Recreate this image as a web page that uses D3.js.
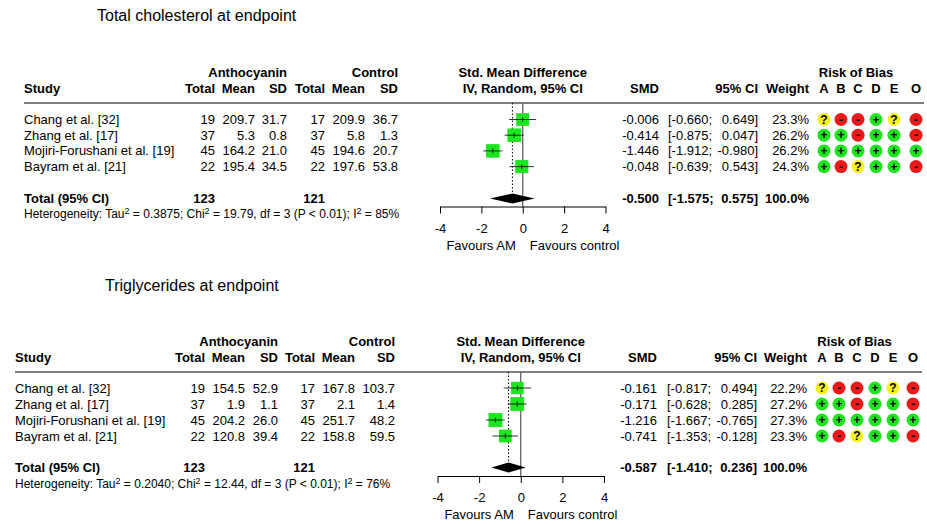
<html>
<head>
<meta charset="utf-8">
<script src="https://d3js.org/d3.v7.min.js"></script>
<style>
  body { margin: 0; background: #fff; }
  text { font-family: "Liberation Sans", Arial, sans-serif; font-size: 13px; fill: #000; }
</style>
</head>
<body>
<svg class="chart" width="927" height="524"></svg>
<script>
// shared labels
var studies = ["Chang et al. [32]", "Zhang et al. [17]", "Mojiri-Forushani et al. [19]", "Bayram et al. [21]"];
var robDomains = ["A", "B", "C", "D", "E", "O"];
var axisTicks = [-4, -2, 0, 2, 4];

// total cholesterol
var tcN1 = [19, 37, 45, 22];
var tcMean1 = [209.7, 5.3, 164.2, 195.4];
var tcSd1 = [31.7, 0.8, 21.0, 34.5];
var tcN2 = [17, 37, 45, 22];
var tcMean2 = [209.9, 5.8, 194.6, 197.6];
var tcSd2 = [36.7, 1.3, 20.7, 53.8];
var tcSmd = [-0.006, -0.414, -1.446, -0.048];
var tcLower = [-0.660, -0.875, -1.912, -0.639];
var tcUpper = [0.649, 0.047, -0.980, 0.543];
var tcWeight = [23.3, 26.2, 26.2, 24.3];
var tcPooled = [-0.500, -1.575, 0.575];
var tcTotals = [123, 121];
var tcHetero = ["0.3875", "19.79", "3", "< 0.01", "85%"];
var tcRob = [["?", "-", "-", "+", "?", "-"],
             ["+", "+", "-", "+", "+", "-"],
             ["+", "+", "+", "+", "+", "+"],
             ["+", "-", "?", "+", "+", "-"]];

// triglycerides
var tgN1 = [19, 37, 45, 22];
var tgMean1 = [154.5, 1.9, 204.2, 120.8];
var tgSd1 = [52.9, 1.1, 26.0, 39.4];
var tgN2 = [17, 37, 45, 22];
var tgMean2 = [167.8, 2.1, 251.7, 158.8];
var tgSd2 = [103.7, 1.4, 48.2, 59.5];
var tgSmd = [-0.161, -0.171, -1.216, -0.741];
var tgLower = [-0.817, -0.628, -1.667, -1.353];
var tgUpper = [0.494, 0.285, -0.765, -0.128];
var tgWeight = [22.2, 27.2, 27.3, 23.3];
var tgPooled = [-0.587, -1.410, 0.236];
var tgTotals = [123, 121];
var tgHetero = ["0.2040", "12.44", "3", "< 0.01", "76%"];
var tgRob = [["?", "-", "-", "+", "?", "-"],
             ["+", "+", "-", "+", "+", "-"],
             ["+", "+", "+", "+", "+", "+"],
             ["+", "-", "?", "+", "+", "-"]];

var robColor = {"+": "#1ee61e", "-": "#ea1a1a", "?": "#f6f21e"};
// plain hyphen for minus signs, like the original
var loc = d3.formatLocale({decimal: ".", thousands: ",", grouping: [3], currency: ["", ""], minus: "-"});
var f1 = loc.format(".1f"), f3 = loc.format(".3f");
var svg = d3.select(".chart");

function txt(g, x, y, s, anchor, bold, size) {
  return g.append("text")
    .attr("x", x).attr("y", y).attr("dy", "0.35em")
    .attr("text-anchor", anchor || "start")
    .style("font-weight", bold ? "bold" : null)
    .style("font-size", size ? size + "px" : null)
    .text(s);
}

function sup(t, s) {
  t.append("tspan").attr("dy", -4.5).style("font-size", "9px").text(s);
}

function drawPanel(L, d) {
  var g = svg.append("g");
  var x = d3.scaleLinear().domain([-4, 4]).range([L.x0, L.x1]);
  var y = d3.scaleLinear().domain([0, 1]).range([L.row0, L.row0 + L.pitch]);
  var side = d3.scaleSqrt().domain([0, 100]).range([0, 26.5]);

  txt(g, L.titleX, L.titleY, L.title, "start", false, 16);

  // column headers
  txt(g, L.cols[2], L.head1, "Anthocyanin", "end", true);
  txt(g, L.cols[5], L.head1, "Control", "end", true);
  txt(g, L.left, L.head2, "Study", "start", true);
  ["Total", "Mean", "SD", "Total", "Mean", "SD"].forEach(function(h, i) {
    txt(g, L.cols[i], L.head2, h, "end", true);
  });
  txt(g, x(0), L.head1, "Std. Mean Difference", "middle", true);
  txt(g, x(0), L.head2, "IV, Random, 95% CI", "middle", true);
  txt(g, L.smdX, L.head2, "SMD", "end", true);
  txt(g, L.hiX, L.head2, "95% CI", "end", true);
  txt(g, L.wX, L.head2, "Weight", "end", true);
  txt(g, (L.robX[0] + L.robX[4]) / 2 - 3, L.head1, "Risk of Bias", "middle", true);
  robDomains.forEach(function(r, i) { txt(g, L.robX[i], L.head2, r, "middle", true); });

  g.append("line").attr("x1", L.left).attr("x2", L.right)
    .attr("y1", L.lineY).attr("y2", L.lineY)
    .attr("stroke", "#555").attr("stroke-width", 1.6);

  // study rows
  studies.forEach(function(s, i) {
    var yy = y(i);
    txt(g, L.left, yy, s);
    [d.n1[i], f1(d.m1[i]), f1(d.s1[i]), d.n2[i], f1(d.m2[i]), f1(d.s2[i])].forEach(function(v, j) {
      txt(g, L.cols[j], yy, v, "end");
    });
    txt(g, L.smdX, yy, f3(d.smd[i]), "end");
    txt(g, L.loX, yy, "[" + f3(d.lo[i]) + ";", "start");
    txt(g, L.hiX, yy, f3(d.hi[i]) + "]", "end");
    txt(g, L.wX, yy, f1(d.w[i]) + "%", "end");
    d.rob[i].forEach(function(r, j) {
      g.append("circle").attr("cx", L.robX[j]).attr("cy", yy).attr("r", 6.5).attr("fill", robColor[r]);
      txt(g, L.robX[j], yy, r, "middle", true, 12);
    });
  });

  // reference lines
  g.append("line").attr("x1", x(d.pooled[0])).attr("x2", x(d.pooled[0]))
    .attr("y1", L.lineY).attr("y2", L.totalY)
    .attr("stroke", "#000").attr("stroke-width", 1).attr("stroke-dasharray", "1.5,2");
  g.append("line").attr("x1", x(0)).attr("x2", x(0))
    .attr("y1", L.lineY).attr("y2", L.axisY)
    .attr("stroke", "#555").attr("stroke-width", 1.2);

  // squares and CIs
  studies.forEach(function(s, i) {
    var yy = y(i), sz = side(d.w[i]);
    g.append("rect").attr("x", x(d.smd[i]) - sz / 2).attr("y", yy - sz / 2)
      .attr("width", sz).attr("height", sz).attr("fill", "#1ee61e");
    g.append("line").attr("x1", x(d.lo[i])).attr("x2", x(d.hi[i]))
      .attr("y1", yy).attr("y2", yy).attr("stroke", "#000").attr("stroke-width", 0.8);
    g.append("line").attr("x1", x(d.smd[i])).attr("x2", x(d.smd[i]))
      .attr("y1", yy - 2.5).attr("y2", yy + 2.5).attr("stroke", "#000").attr("stroke-width", 0.8);
  });

  // pooled diamond
  var ty = L.totalY;
  g.append("path")
    .attr("d", "M" + x(d.pooled[1]) + "," + ty + "L" + x(d.pooled[0]) + "," + (ty - 5) +
      "L" + x(d.pooled[2]) + "," + ty + "L" + x(d.pooled[0]) + "," + (ty + 5) + "Z")
    .attr("fill", "#000");

  // total row
  txt(g, L.left, ty, "Total (95% CI)", "start", true);
  txt(g, L.cols[0], ty, d.totals[0], "end", true);
  txt(g, L.cols[3], ty, d.totals[1], "end", true);
  txt(g, L.smdX, ty, f3(d.pooled[0]), "end", true);
  txt(g, L.loX, ty, "[" + f3(d.pooled[1]) + ";", "start", true);
  txt(g, L.hiX, ty, f3(d.pooled[2]) + "]", "end", true);
  txt(g, L.wX, ty, f1(d3.sum(d.w)) + "%", "end", true);

  // heterogeneity
  var h = txt(g, L.left, L.hetY, "", "start", false, 12);
  h.append("tspan").text("Heterogeneity: Tau");
  sup(h, "2");
  h.append("tspan").attr("dy", 4.5).text(" = " + d.het[0] + "; Chi");
  sup(h, "2");
  h.append("tspan").attr("dy", 4.5).text(" = " + d.het[1] + ", df = " + d.het[2] + " (P " + d.het[3] + "); I");
  sup(h, "2");
  h.append("tspan").attr("dy", 4.5).text(" = " + d.het[4]);

  // axis
  var ax = g.append("g").attr("transform", "translate(0," + L.axisY + ")")
    .call(d3.axisBottom(x).tickValues(axisTicks).tickFormat(loc.format("d"))
      .tickSize(7).tickSizeOuter(0).tickPadding(10));
  ax.select(".domain").attr("stroke", "#000");
  ax.selectAll(".tick line").attr("stroke", "#000");
  ax.selectAll(".tick text").style("font-size", "13px").style("font-family", "'Liberation Sans', Arial, sans-serif");
  txt(g, x(0) - 7, L.axisY + 38.5, "Favours AM", "end");
  txt(g, x(0) + 7, L.axisY + 38.5, "Favours control", "start");
}

drawPanel({title: "Total cholesterol at endpoint", titleX: 97, titleY: 15,
  head1: 72, head2: 88, lineY: 103, row0: 119.5, pitch: 15.7, totalY: 198.5, hetY: 214, axisY: 206.5,
  left: 24, right: 924, cols: [215, 255, 287, 325, 365, 398], x0: 440, x1: 605.5,
  smdX: 659, loX: 668, hiX: 758, wX: 809, robX: [824, 841, 858, 876, 894, 916]},
  {n1: tcN1, m1: tcMean1, s1: tcSd1, n2: tcN2, m2: tcMean2, s2: tcSd2, smd: tcSmd, lo: tcLower,
   hi: tcUpper, w: tcWeight, pooled: tcPooled, totals: tcTotals, het: tcHetero, rob: tcRob});

drawPanel({title: "Triglycerides at endpoint", titleX: 105, titleY: 285,
  head1: 341, head2: 357, lineY: 372, row0: 388, pitch: 16, totalY: 467.5, hetY: 484, axisY: 476,
  left: 15, right: 922, cols: [205, 245, 278, 315, 355, 395], x0: 437.5, x1: 604,
  smdX: 657, loX: 667, hiX: 757, wX: 807, robX: [822, 839, 857, 875, 893, 913]},
  {n1: tgN1, m1: tgMean1, s1: tgSd1, n2: tgN2, m2: tgMean2, s2: tgSd2, smd: tgSmd, lo: tgLower,
   hi: tgUpper, w: tgWeight, pooled: tgPooled, totals: tgTotals, het: tgHetero, rob: tgRob});
</script>
</body>
</html>
